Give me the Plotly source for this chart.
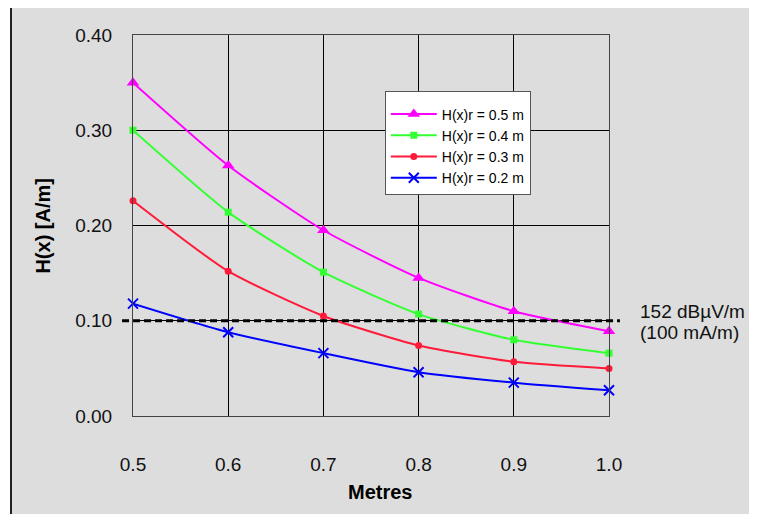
import plotly.graph_objects as go

# ---- data ----
distances = [0.5, 0.6, 0.7, 0.8, 0.9, 1.0]
h_r05 = [0.350, 0.263, 0.195, 0.145, 0.110, 0.089]
h_r04 = [0.300, 0.214, 0.151, 0.107, 0.080, 0.066]
h_r03 = [0.226, 0.152, 0.105, 0.074, 0.057, 0.050]
h_r02 = [0.118, 0.088, 0.066, 0.046, 0.035, 0.027]
series_names = ["H(x)r = 0.5 m", "H(x)r = 0.4 m", "H(x)r = 0.3 m", "H(x)r = 0.2 m"]
limit_value = 0.10
limit_label_lines = ["152 dBµV/m", "(100 mA/m)"]
y_ticks = [0.0, 0.1, 0.2, 0.3, 0.4]
x_ticks = [0.5, 0.6, 0.7, 0.8, 0.9, 1.0]

FONT = "Liberation Sans, Arial, sans-serif"
BG = "#DDDDDD"

styles = [
    dict(color="#FF00FF", symbol="triangle-up", size=11, mline=0),
    dict(color="#33FF33", symbol="square", size=7, mline=0),
    dict(color="#FF1A3A", symbol="circle", size=7, mline=0),
    dict(color="#0000FF", symbol="x-thin", size=10, mline=2),
]

fig = go.Figure()
for name, vals, st in zip(series_names, [h_r05, h_r04, h_r03, h_r02], styles):
    fig.add_trace(go.Scatter(
        x=distances, y=vals, name=name, mode="lines+markers",
        line=dict(color=st["color"], width=2, shape="spline", smoothing=0.6),
        marker=dict(symbol=st["symbol"], size=st["size"], color=st["color"],
                    line=dict(color=st["color"], width=st["mline"])),
        cliponaxis=False,
    ))

# outer chart-area frame
fig.add_shape(type="rect", xref="paper", yref="paper",
              x0=-0.2563, x1=1.5, y0=-0.5, y1=1.0735,
              fillcolor=BG, line=dict(color="#222222", width=2), layer="below")

# limit line
fig.add_shape(type="line", xref="paper", yref="y",
              x0=-0.023, x1=1.023, y0=limit_value, y1=limit_value,
              line=dict(color="black", width=3, dash="7px,4px"), layer="above")

for txt, ypos in zip(limit_label_lines, [0.273, 0.218]):
    fig.add_annotation(x=1.061, xref="paper", y=ypos, yref="paper",
                       text=txt, showarrow=False, xanchor="left", yanchor="middle",
                       align="left", font=dict(family=FONT, size=19, color="#111111"))

fig.add_annotation(x=0.519, xref="paper", y=-0.2, yref="paper",
                   text="<b>Metres</b>", showarrow=False, xanchor="center", yanchor="middle",
                   font=dict(family=FONT, size=20, color="black"))
fig.add_annotation(x=-0.191, xref="paper", y=0.5, yref="paper", textangle=-90,
                   text="<b>H(x) [A/m]</b>", showarrow=False, xanchor="center", yanchor="middle",
                   font=dict(family=FONT, size=20, color="black"))

fig.update_layout(
    width=757, height=514,
    margin=dict(l=125, r=156, t=27, b=106),
    paper_bgcolor="white", plot_bgcolor=BG,
    font=dict(family=FONT, size=19, color="#111111"),
    showlegend=True,
    legend=dict(x=0.529, y=0.853, xanchor="left", yanchor="top",
                bgcolor="white", bordercolor="#555555", borderwidth=1,
                font=dict(family=FONT, size=14, color="black"),
                title=dict(text=" ", font=dict(size=5)),
                tracegroupgap=0, itemwidth=46),
)
fig.update_xaxes(range=[0.5, 1.0], tickvals=x_ticks, tickformat=".1f",
                 showgrid=True, gridcolor="black", gridwidth=1,
                 showline=True, linecolor="#444444", linewidth=1, mirror=True,
                 zeroline=False, ticks="", ticklabelstandoff=31,
                 tickfont=dict(family=FONT, size=19, color="#111111"))
fig.update_yaxes(range=[0, 0.4], tickvals=y_ticks, tickformat=".2f",
                 showgrid=True, gridcolor="black", gridwidth=1,
                 showline=True, linecolor="#444444", linewidth=1, mirror=True,
                 zeroline=False, ticks="", ticklabelstandoff=16,
                 tickfont=dict(family=FONT, size=19, color="#111111"))

fig.write_html("out.html")
